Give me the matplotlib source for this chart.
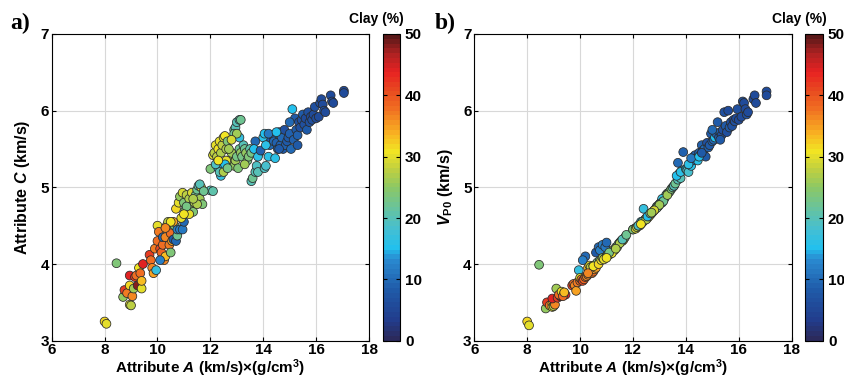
import matplotlib
matplotlib.use('Agg')
import matplotlib.pyplot as plt
import numpy as np
from matplotlib.colors import LinearSegmentedColormap

plt.rcParams['font.family'] = ['Liberation Sans', 'DejaVu Sans']
plt.rcParams['font.weight'] = 'bold'
plt.rcParams['mathtext.fontset'] = 'custom'
plt.rcParams['mathtext.rm'] = 'Liberation Sans:bold'
plt.rcParams['mathtext.it'] = 'Liberation Sans:bold:italic'
plt.rcParams['mathtext.bf'] = 'Liberation Sans:bold'

# attribute A, attribute C, VP0 and clay content for each sample
attr_a = [8.0, 8.07, 8.45, 8.7, 8.75, 8.85, 8.95, 8.95, 9.0, 9.05,
          9.1, 8.95, 9.15, 9.25, 9.2, 9.3, 9.4, 9.45, 9.35, 9.4,
          9.7, 9.75, 9.8, 9.85, 9.95, 9.9, 10.0, 10.0, 10.05, 10.1,
          10.15, 10.2, 10.25, 10.3, 10.2, 10.3, 10.35, 10.4, 10.45, 10.5,
          10.5, 10.55, 10.6, 10.65, 10.7, 10.75, 10.75, 10.85, 10.95, 11.0,
          10.6, 10.5, 10.3, 10.1,
          10.7, 10.8, 10.85, 10.95, 11.0, 11.05, 11.1, 11.2, 11.25, 11.3,
          11.35, 11.4, 11.45, 11.5, 11.55, 11.6, 11.65, 11.7, 11.2, 11.1,
          10.9, 11.0, 11.5, 11.35, 12.0, 12.1, 11.6, 11.75,
          12.0, 12.1, 12.15, 12.2, 12.25, 12.3, 12.35, 12.4, 12.45, 12.5,
          12.55, 12.6, 12.65, 12.7, 12.75, 12.8, 12.85, 12.9, 12.95, 13.0,
          13.05, 13.1, 13.15, 13.2, 13.25, 13.3, 13.35, 13.4, 13.1, 12.3,
          12.4, 12.35, 12.5, 12.6, 12.2, 12.55, 12.65, 12.9, 12.95, 13.0,
          13.1, 13.15, 12.9, 13.0, 12.8, 12.3, 12.7, 13.3, 13.45, 13.5,
          13.55,
          13.55, 13.6, 13.7, 13.75, 13.8, 13.85, 13.7, 13.65, 13.8, 13.9,
          14.0, 14.05, 14.05, 14.1, 14.2, 14.25, 14.3, 14.35, 14.4, 14.45,
          14.5, 14.55, 14.6, 14.65, 14.7, 14.75, 14.8, 14.85, 14.9, 14.95,
          15.0, 15.05, 15.1, 15.15, 15.2, 15.25, 15.3, 15.35, 15.4, 15.45,
          15.5, 15.55, 15.6, 15.65, 15.7, 15.75, 15.8, 15.85, 15.9, 15.95,
          16.0, 16.1, 16.15, 16.2, 16.25, 16.3, 16.35, 16.55, 16.6, 16.65,
          17.05, 17.05, 14.1, 14.2, 14.5, 14.6, 15.0, 15.3]

attr_c = [3.25, 3.22, 4.01, 3.57, 3.66, 3.62, 3.72, 3.47, 3.46, 3.58,
          3.68, 3.85, 3.83, 3.72, 3.85, 3.95, 3.68, 4.0, 3.88, 3.78,
          4.12, 4.05, 3.95, 3.88, 3.92, 4.2, 4.3, 4.5, 4.42, 4.2,
          4.15, 4.25, 4.05, 4.1, 4.35, 4.35, 4.5, 4.55, 4.25, 4.15,
          4.4, 4.3, 4.32, 4.5, 4.3, 4.37, 4.45, 4.45, 4.45, 4.55,
          4.55, 4.55, 4.47, 4.05,
          4.72, 4.8, 4.88, 4.93, 4.8, 4.7, 4.9, 4.85, 4.75, 4.93,
          4.68, 4.8, 4.9, 4.97, 5.02, 4.85, 5.0, 4.78, 4.65, 4.75,
          4.6, 4.65, 4.78, 4.85, 4.96, 4.95, 5.04, 4.95,
          5.24, 5.42, 5.45, 5.55, 5.4, 5.5, 5.6, 5.45, 5.55, 5.65,
          5.67, 5.5, 5.6, 5.35, 5.3, 5.45, 5.32, 5.28, 5.35, 5.4,
          5.25, 5.5, 5.45, 5.4, 5.55, 5.5, 5.45, 5.35, 5.65, 5.25,
          5.15, 5.2, 5.2, 5.35, 5.3, 5.3, 5.25, 5.75, 5.78, 5.85,
          5.88, 5.88, 5.7, 5.7, 5.62, 5.35, 5.5, 5.3, 5.4, 5.5,
          5.45,
          5.08, 5.12, 5.2, 5.28, 5.2, 5.45, 5.6, 5.5, 5.4, 5.48,
          5.65, 5.7, 5.25, 5.28, 5.4, 5.55, 5.62, 5.68, 5.6, 5.38,
          5.58, 5.5, 5.72, 5.55, 5.65, 5.5, 5.75, 5.55, 5.6, 5.65,
          5.7, 5.5, 6.02, 5.62, 5.9, 5.75, 5.68, 5.85, 5.78, 5.88,
          5.95, 5.82, 5.9, 5.75, 5.98, 5.85, 5.92, 5.88, 5.95, 6.05,
          5.9, 5.92, 6.1, 6.15, 6.08, 6.0, 5.98, 6.2, 6.12, 6.1,
          6.26, 6.23, 5.55, 5.7, 5.72, 5.5, 5.85, 5.55]

vp0 = [3.25, 3.2, 3.99, 3.42, 3.5, 3.46, 3.48, 3.44, 3.45, 3.47,
       3.68, 3.55, 3.56, 3.58, 3.6, 3.64, 3.62, 3.6, 3.58, 3.63,
       3.72, 3.74, 3.72, 3.65, 3.92, 3.76, 3.78, 3.82, 3.8, 3.78,
       3.8, 3.83, 3.84, 3.95, 4.1, 3.86, 3.98, 3.96, 3.88, 3.98,
       3.9, 3.93, 4.15, 4.02, 4.22, 4.05, 4.18, 4.25, 4.22, 4.28,
       3.95, 3.97, 3.88, 4.05,
       4.0, 4.05, 4.08, 4.08, 4.1, 4.12, 4.12, 4.15, 4.18, 4.18,
       4.22, 4.22, 4.26, 4.28, 4.3, 4.3, 4.32, 4.35, 4.14, 4.15,
       4.06, 4.08, 4.27, 4.2, 4.45, 4.47, 4.32, 4.38,
       4.45, 4.46, 4.48, 4.5, 4.5, 4.52, 4.54, 4.56, 4.58, 4.6,
       4.6, 4.63, 4.64, 4.66, 4.68, 4.7, 4.72, 4.74, 4.75, 4.78,
       4.8, 4.82, 4.84, 4.86, 4.9, 4.92, 4.93, 4.95, 4.85, 4.55,
       4.72, 4.55, 4.58, 4.62, 4.5, 4.62, 4.66, 4.75, 4.76, 4.78,
       4.8, 4.82, 4.73, 4.77, 4.7, 4.52, 4.67, 4.9, 4.98, 5.0,
       5.02,
       5.02, 5.05, 5.1, 5.18, 5.12, 5.22, 5.32, 5.15, 5.2, 5.46,
       5.24, 5.25, 5.22, 5.2, 5.28, 5.35, 5.4, 5.42, 5.38, 5.35,
       5.45, 5.42, 5.55, 5.48, 5.5, 5.4, 5.58, 5.52, 5.55, 5.7,
       5.6, 5.62, 5.65, 5.7, 5.85, 5.65, 5.72, 5.68, 5.75, 5.98,
       5.8, 5.72, 6.0, 5.78, 5.85, 5.8, 5.88, 5.86, 5.9, 6.02,
       5.88, 5.92, 6.12, 6.1, 6.02, 5.95, 5.98, 6.15, 6.2, 6.1,
       6.25, 6.2, 5.3, 5.38, 5.4, 5.45, 5.75, 5.62]

clay = [32, 30, 24, 25, 42, 37, 32, 30, 28, 36,
        26, 44, 42, 48, 38, 31, 30, 44, 38, 33,
        42, 38, 36, 35, 17, 37, 38, 30, 37, 41,
        39, 38, 36, 33, 10, 36, 30, 28, 37, 24,
        38, 35, 8, 24, 10, 22, 12, 12, 11, 10,
        35, 31, 36, 12,
        32, 30, 25, 29, 24, 24, 28, 27, 25, 29,
        24, 27, 22, 22, 20, 26, 29, 24, 30, 23,
        30, 31, 27, 27, 20, 21, 20, 22,
        24, 29, 28, 30, 28, 31, 30, 27, 28, 30,
        31, 27, 24, 27, 26, 26, 26, 25, 26, 23,
        24, 22, 25, 23, 20, 22, 25, 23, 17, 16,
        17, 20, 27, 30, 19, 15, 23, 22, 20, 20,
        20, 22, 22, 26, 29, 31, 26, 26, 24, 21,
        23,
        20, 22, 20, 19, 20, 17, 10, 15, 16, 9,
        16, 15, 19, 18, 16, 10, 8, 9, 10, 16,
        9, 10, 9, 9, 10, 8, 7, 9, 8, 8,
        9, 10, 15, 9, 8, 8, 9, 7, 7, 7,
        8, 7, 6, 8, 7, 7, 6, 7, 6, 7,
        6, 6, 7, 6, 6, 7, 6, 6, 6, 6,
        6, 6, 16, 11, 15, 8, 10, 8]

# jet-like colour scale of the clay bar
cmap_nodes = [(0.0, '#2b2a5c'), (0.06, '#223c8c'), (0.16, '#1f5aa8'),
              (0.26, '#2a8ad0'), (0.30, '#22c0ee'), (0.36, '#45bfd2'),
              (0.42, '#62c2a6'), (0.50, '#8cc864'), (0.56, '#c0d040'),
              (0.62, '#f2e423'), (0.68, '#f8b022'), (0.76, '#f06e22'),
              (0.82, '#e84a20'), (0.88, '#e82222'), (0.94, '#b02222'),
              (1.0, '#5a1818')]
clay_cmap = LinearSegmentedColormap.from_list('clay', cmap_nodes, N=64)

fig = plt.figure(figsize=(8.45, 3.81), dpi=100)
ax_a = fig.add_axes([0.0612, 0.1058, 0.3755, 0.805])
cax_a = fig.add_axes([0.4529, 0.1058, 0.0205, 0.805])
ax_b = fig.add_axes([0.5613, 0.1058, 0.3756, 0.805])
cax_b = fig.add_axes([0.9527, 0.1058, 0.0213, 0.805])

panels = [(ax_a, cax_a, attr_c, r'Attribute $C$ (km/s)', 'a)', 0.012),
          (ax_b, cax_b, vp0, r'$V_{\mathrm{P0}}$ (km/s)', 'b)', 0.514)]

for ax, cax, yvals, ylab, tag, tx in panels:
    sc = ax.scatter(attr_a, yvals, c=clay, cmap=clay_cmap, vmin=0, vmax=50,
                    s=40, edgecolors='#2a2a2a', linewidths=0.55, zorder=3)
    ax.set_xlim(6, 18)
    ax.set_ylim(3, 7)
    ax.set_xticks([6, 8, 10, 12, 14, 16, 18])
    ax.set_yticks([3, 4, 5, 6, 7])
    ax.grid(True, color='#d8d8d8', linewidth=0.8)
    ax.set_axisbelow(True)
    ax.tick_params(direction='in', top=True, right=True, labelsize=11,
                   length=3, pad=2)
    for lab in ax.get_xticklabels() + ax.get_yticklabels():
        lab.set_fontweight('bold')
    for sp in ax.spines.values():
        sp.set_linewidth(0.8)
    ax.set_xlabel(r'Attribute $A$ (km/s)$\times$(g/cm$^{3}$)', fontsize=11,
                  fontweight='bold', labelpad=0)
    ax.set_ylabel(ylab, fontsize=11.5, fontweight='bold', labelpad=6)

    cb = fig.colorbar(sc, cax=cax, ticks=[0, 10, 20, 30, 40, 50])
    cb.ax.tick_params(direction='in', labelsize=11, length=3, left=True)
    for lab in cb.ax.get_yticklabels():
        lab.set_fontweight('bold')
    cb.outline.set_linewidth(0.8)
    cax.text(1.2, 1.025, 'Clay (%)', transform=cax.transAxes, ha='right',
             va='bottom', fontsize=10, fontweight='bold')

    fig.text(tx, 0.925, tag, fontsize=17, fontweight='bold',
             family='Liberation Serif')

fig.savefig('out.png', dpi=100)
